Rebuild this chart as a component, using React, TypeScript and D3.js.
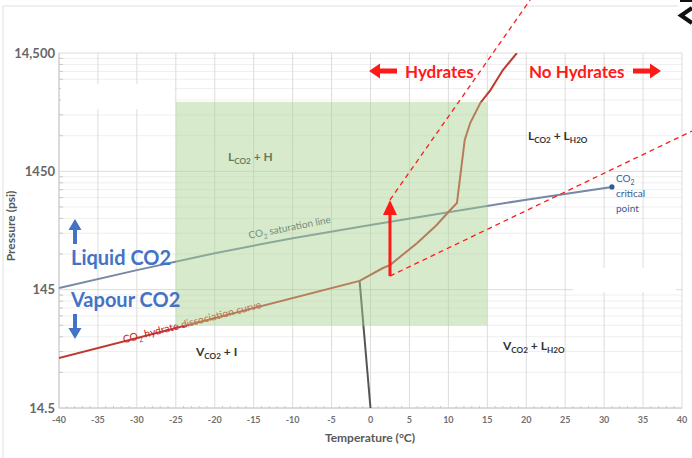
import React from "react";
import * as d3 from "d3";

// CO2 saturation (vapour-liquid) line, up to the critical point
const satT = [-40, -30, -20, -10, 0, 10, 20, 31];
const satP = [150, 212, 295, 395, 510, 655, 835, 1071];

// CO2 hydrate dissociation curve
const hydT = [-40, -1.4, 1.6, 2.5, 6.0, 8.5, 10.0, 11.1, 12.1, 12.8, 14.1, 15.4, 17.0, 18.8];
const hydP = [38.4, 172, 221, 234, 360, 510, 657, 783, 2670, 3710, 5480, 7050, 10400, 14500];

// Ice / water boundary below the lower quadruple point
const iceT = [-1.4, 0];
const iceP = [172, 14.5];

// Hydrate-forming operating window
const windowT = [-25, 15];
const windowP = [72, 5600];

// Pressure-raise arrow and its dashed guide lines
const arrowT = 2.5;
const arrowP = [189, 831];
const guideT = [20.5, 41.3];
const guideP = [40700, 3180];

const criticalT = 31;
const criticalP = 1071;

const xTicks = d3.range(-40, 41, 5);
const yTicks = [14.5, 145, 1450, 14500];
const yTickLabels = ["14.5", "145", "1450", "14,500"];

const W = 692;
const H = 458;
const M = { left: 59, right: 682, top: 53, bottom: 408 };

const FONT = "Lato, 'Open Sans', 'Liberation Sans', sans-serif";
const RED = "#ff1a1a";
const BLUE = "#4472c4";

export default function App() {
  const x = d3.scaleLinear().domain([-40, 40]).range([M.left, M.right]);
  const y = d3.scaleLog().domain([14.5, 14500]).range([M.bottom, M.top]);

  const minorY: number[] = [];
  for (const dec of [14.5, 145, 1450]) {
    for (let k = 2; k <= 9; k++) minorY.push(dec * k);
  }
  const minorX = d3.range(-40, 41, 1).filter((t) => t % 5 !== 0);

  const line = d3
    .line<[number, number]>()
    .x((d) => x(d[0]))
    .y((d) => y(d[1]));

  const satPath = line(satT.map((t, i) => [t, satP[i]]))!;
  const hydPath = line(hydT.map((t, i) => [t, hydP[i]]))!;
  const icePath = line(iceT.map((t, i) => [t, iceP[i]]))!;

  const ax = x(arrowT);
  const aBot = y(arrowP[0]);
  const aTop = y(arrowP[1]);

  // angle of the straight low-temperature part of the hydrate curve
  const hydAngle =
    (Math.atan2(y(hydP[1]) - y(hydP[0]), x(hydT[1]) - x(hydT[0])) * 180) / Math.PI;

  const sub = (s: string) => (
    <tspan dy={3} fontSize="0.68em">
      {s}
    </tspan>
  );

  return (
    <svg
      width={W}
      height={H}
      style={{ position: "absolute", left: 0, top: 0, background: "#fff" }}
      fontFamily={FONT}
    >
      <defs>
        <clipPath id="plot">
          <rect x={M.left} y={M.top} width={M.right - M.left} height={M.bottom - M.top} />
        </clipPath>
      </defs>

      {/* outer frame */}
      <path d={`M3,${H} V6 H678`} fill="none" stroke="#e0e0e0" strokeWidth={1} />

      {/* grid */}
      <g>
        {minorY.map((p) => (
          <line key={"my" + p} x1={M.left} x2={M.right} y1={y(p)} y2={y(p)} stroke="#efefef" />
        ))}
        {xTicks.map((t) => (
          <line key={"gx" + t} x1={x(t)} x2={x(t)} y1={M.top} y2={M.bottom} stroke="#dcdcdc" />
        ))}
        {yTicks.map((p) => (
          <line key={"gy" + p} x1={M.left} x2={M.right} y1={y(p)} y2={y(p)} stroke="#dcdcdc" />
        ))}
        {/* minor tick marks along the axes */}
        {minorX.map((t) => (
          <line key={"tx" + t} x1={x(t)} x2={x(t)} y1={M.bottom - 2} y2={M.bottom} stroke="#c8c8c8" />
        ))}
        {minorY.map((p) => (
          <line key={"ty" + p} x1={M.left} x2={M.left + 4} y1={y(p)} y2={y(p)} stroke="#c8c8c8" />
        ))}
        <line x1={M.left} x2={M.left} y1={M.top} y2={M.bottom} stroke="#c8c8c8" />
        <line x1={M.left} x2={M.right} y1={M.bottom} y2={M.bottom} stroke="#c8c8c8" />
      </g>

      {/* blank patches over the grid */}
      <rect x={61} y={84} width={113} height={25} fill="#fff" />
      <rect x={573} y={268} width={103} height={24} fill="#fff" />

      {/* phase boundaries */}
      <g clipPath="url(#plot)" fill="none">
        <path d={satPath} stroke="#7688a6" strokeWidth={2} />
        <path d={hydPath} stroke="#c0392f" strokeWidth={2} />
        <path d={icePath} stroke="#555" strokeWidth={2} />
      </g>
      <circle cx={x(criticalT)} cy={y(criticalP)} r={2.6} fill="#2e5c9a" />

      {/* labels along the curves */}
      <text
        transform={`translate(${x(-10.3)},${y(430) - 3}) rotate(-11)`}
        fontSize={10}
        fill="#3c5470"
        textAnchor="middle"
      >
        CO{sub("2")}
        <tspan dy={-3}> saturation line</tspan>
      </text>
      <text
        transform={`translate(${x(-22.8)},${y(68) - 3}) rotate(${hydAngle})`}
        fontSize={10.5}
        fill="#c82020"
        textAnchor="middle"
      >
        CO{sub("2")}
        <tspan dy={-3}> hydrate dissociation curve</tspan>
      </text>

      {/* region labels */}
      <g fontSize={12} fontWeight="bold" fill="#333">
        <text x={228} y={161}>
          L{sub("CO2")}
          <tspan dy={-3}> + H</tspan>
        </text>
        <text x={528} y={140}>
          L{sub("CO2")}
          <tspan dy={-3}> + L</tspan>
          {sub("H2O")}
        </text>
        <text x={196} y={356}>
          V{sub("CO2")}
          <tspan dy={-3}> + I</tspan>
        </text>
        <text x={503} y={350}>
          V{sub("CO2")}
          <tspan dy={-3}> + L</tspan>
          {sub("H2O")}
        </text>
      </g>

      {/* hydrate-forming window */}
      <rect
        x={x(windowT[0])}
        y={y(windowP[1])}
        width={x(windowT[1]) - x(windowT[0])}
        height={y(windowP[0]) - y(windowP[1])}
        fill="#a9d18e"
        fillOpacity={0.45}
      />

      {/* critical point label */}
      <g fontSize={10} fill="#3a5a95">
        <text x={616} y={182}>
          CO{sub("2")}
        </text>
        <text x={616} y={197}>
          critical
        </text>
        <text x={616} y={212}>
          point
        </text>
      </g>

      {/* Hydrates / No Hydrates */}
      <g fill={RED}>
        <path d="M369,71 L380,63.5 L380,68.5 L397,68.5 L397,73.5 L380,73.5 L380,78.5 Z" />
        <text x={405} y={78} fontSize={17} fontWeight="bold">
          Hydrates
        </text>
        <text x={529} y={78} fontSize={17} fontWeight="bold">
          No Hydrates
        </text>
        <path d="M661,71 L650,63.5 L650,68.5 L633,68.5 L633,73.5 L650,73.5 L650,78.5 Z" />
      </g>

      {/* Liquid / Vapour CO2 */}
      <g fill={BLUE}>
        <path d="M75,219 L81.5,230 L77,230 L77,244 L73,244 L73,230 L68.5,230 Z" />
        <text x={71} y={265} fontSize={20} fontWeight="bold">
          Liquid CO2
        </text>
        <text x={71} y={307} fontSize={20} fontWeight="bold">
          Vapour CO2
        </text>
        <path d="M75,339 L81.5,328 L77,328 L77,314 L73,314 L73,328 L68.5,328 Z" />
      </g>

      {/* dashed guide lines and pressure-raise arrow */}
      <g stroke={RED} strokeWidth={1.3} strokeDasharray="5,4" fill="none">
        <line x1={ax} y1={aTop} x2={x(guideT[0])} y2={y(guideP[0])} />
        <line x1={ax} y1={aBot} x2={x(guideT[1])} y2={y(guideP[1])} />
      </g>
      <line x1={ax} x2={ax} y1={aBot} y2={aTop + 12} stroke={RED} strokeWidth={3} />
      <path d={`M${ax},${aTop} L${ax + 7},${aTop + 15} L${ax - 7},${aTop + 15} Z`} fill={RED} />

      {/* axis tick labels */}
      <g fontSize={13} fontWeight="bold" fill="#666" textAnchor="end">
        {yTicks.map((p, i) => (
          <text key={p} x={55} y={y(p) + 4.5}>
            {yTickLabels[i]}
          </text>
        ))}
      </g>
      <g fontSize={9} fontWeight="bold" fill="#707070" textAnchor="middle">
        {xTicks.map((t) => (
          <text key={t} x={x(t)} y={423}>
            {t}
          </text>
        ))}
      </g>

      {/* axis titles */}
      <text x={370} y={442} fontSize={12} fontWeight="bold" fill="#595959" textAnchor="middle">
        Temperature (°C)
      </text>
      <text
        transform="translate(15,226) rotate(-90)"
        fontSize={12}
        fontWeight="bold"
        fill="#595959"
        textAnchor="middle"
      >
        Pressure (psi)
      </text>

      {/* glyph at the top-right edge */}
      <path d="M692,8 L681,15.5 L692,23" fill="none" stroke="#111" strokeWidth={4} />
      <line x1={680} x2={692} y1={1} y2={1} stroke="#111" strokeWidth={2} />
    </svg>
  );
}
